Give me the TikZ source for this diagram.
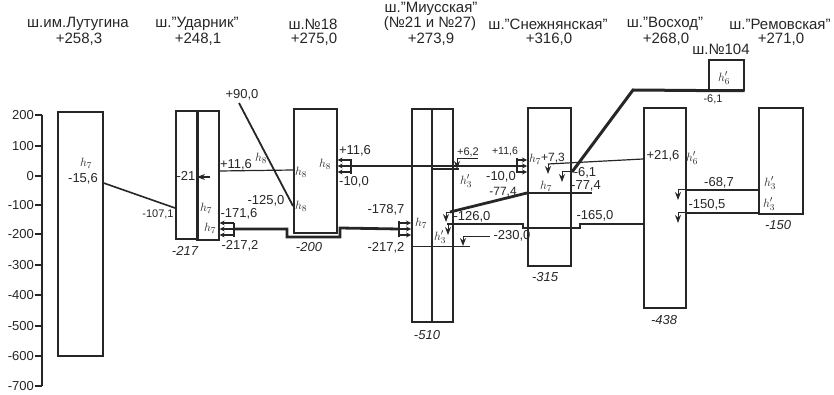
\documentclass[tikz,border=0pt]{standalone}
\usepackage{fontspec}
\setmainfont{Liberation Sans}
\usetikzlibrary{arrows.meta}
\begin{document}
\begin{tikzpicture}[x=1pt, y=-1pt, >={Stealth[length=8pt,width=6pt]},
        every node/.style={text=black!85, inner sep=0pt},
        shaft/.style={draw=black!85, line width=1.6pt, anchor=north west, inner sep=0pt},
        big/.style={font=\fontsize{15}{16}\selectfont},
        mid/.style={font=\fontsize{13}{14}\selectfont},
        depth/.style={font=\fontsize{13}{14}\selectfont\itshape},
        hlab/.style={font=\fontsize{13}{14}\selectfont},
        seam/.style={black!85, line width=2.8pt},
        drift/.style={black!85, line width=1.2pt},
        flow/.style={->, black!85, line width=1pt},
        brack/.style={black!85, line width=1.8pt}]
    \useasboundingbox (0,0) rectangle (834,395);

    % Axis
    \draw[black!85, line width=1.6pt] (42,115) -- (42,386);
    \foreach \val/\y in {200/115, 100/146, 0/176, -100/205, -200/234, -300/265, -400/295, -500/326, -600/356, -700/386} {
            \draw[black!85, line width=1.6pt] (35,\y) -- (42,\y);
            \node[mid, anchor=east] (tick\y) at (34,\y) {\val};
        }

    % Shaft headers
    \foreach \i/\x/\name/\level in {1/78/{ш.им.Лутугина}/{+258,3}, 2/197/{ш."Ударник"}/{+248,1}, 3/313/{ш.№18}/{+275,0}, 4/430/{(№21 и №27)}/{+273,9}, 5/548/{ш."Снежнянская"}/{+316,0}, 6/665/{ш."Восход"}/{+268,0}, 7/780/{ш."Ремовская"}/{+271,0}} {
            \node[big] (name\i) at (\x,24) {\name};
            \node[big] (level\i) at (\x+1,39) {\level};
        }
    \node[big] (nameMius) at (431,9) {ш."Миусская"};
    \node[big] (name8) at (721,49) {ш.№104};

    % Boxes
    \node[shaft, minimum width=45pt, minimum height=244pt] (lut) at (57,111) {};
    \node[shaft, minimum width=22pt, minimum height=128pt] (udA) at (175,110) {};
    \node[shaft, minimum width=21pt, minimum height=129pt] (udB) at (197,110) {};
    \node[shaft, minimum width=43pt, minimum height=124pt] (n18) at (293,108) {};
    \node[shaft, minimum width=20pt, minimum height=213pt] (miA) at (411,108) {};
    \node[shaft, minimum width=21pt, minimum height=213pt] (miB) at (431,108) {};
    \node[shaft, minimum width=43pt, minimum height=158pt] (sne) at (527,107) {};
    \node[shaft, minimum width=42pt, minimum height=200pt] (vos) at (643,107) {};
    \node[shaft, minimum width=44pt, minimum height=106pt] (rem) at (758,107) {};
    \node[shaft, minimum width=35pt, minimum height=30pt] (n104) at (708,59) {};
    \draw[black!85, line width=2.6pt] (udB.north west) -- (udB.south west);

    % Free ends
    \coordinate (topNine) at (239,103);
    \coordinate (brUd) at (234,229);
    \coordinate (brNr) at (351,166);
    \coordinate (brMi) at (399,229);
    \coordinate (brSn) at (517,166);
    \coordinate (dipA) at (287,229);
    \coordinate (dipB) at (340,228);
    \coordinate (bendN) at (633,90);
    \coordinate (bendS) at (572,172);
    \coordinate (endA) at (459,169);
    \coordinate (endB) at (447,224);
    \coordinate (endC) at (450,212);
    \coordinate (endD) at (592,193);
    \coordinate (endE) at (470,246);
    \coordinate (endF) at (548,164);
    \coordinate (stepA) at (523,224);
    \coordinate (stepB) at (580,224);
    \coordinate (capA) at (478,158);
    \coordinate (capB) at (490,236);

    % Workings
    \draw[black!85, line width=1.6pt] (lut.east |- 0,183) -- (udA.west |- 0,208);
    \draw[drift] (udB.east |- 0,171) -- (n18.west |- 0,170);
    \draw[black!85, line width=1.8pt] (topNine) -- (n18.west |- 0,206);
    \draw[seam] (brUd) -- (dipA) -- (dipA |- 0,237) -- (dipB |- 0,237) -- (dipB) -- (brMi);
    \draw[drift] (brNr) -- (brSn);
    \draw[seam] (miB.west |- endA) -- (endA);
    \draw[seam] (endC) -- (sne.west |- 0,193);
    \draw[drift] (sne.west |- 0,193) -- (endD);
    \draw[seam] (endB) -- (stepA) -- (stepA |- 0,228) -- (stepB |- 0,228) -- (stepB) -- (vos.west |- 0,224);
    \draw[drift, line width=0.8pt] (miA.west |- endE) -- (endE);
    \draw[line width=3pt, black!85] (n104.south east) -- (n104.south west) -- (bendN) -- (bendS);
    \draw[drift] (vos.west |- 0,159) -- (endF);
    \draw[seam] (vos.east |- 0,190) -- (rem.west |- 0,190);
    \draw[drift] (vos.east |- 0,213) -- (rem.west |- 0,213);

    % Brackets with three arrows
    \foreach \br/\tgt/\side/\up/\down in {brUd/udB/east/6/8, brNr/n18/east/7/8, brMi/miA/west/8/8, brSn/sne/west/8/7} {
            \draw[brack] ([yshift=\up pt]\br) -- ([yshift=-\down pt]\br);
            \foreach \dy in {-6,0,6} {
                    \draw[flow, line width=1.2pt, >={Stealth[length=5pt,width=5pt]}] ([yshift=\dy pt]\br) -- ([yshift=\dy pt]\br -| \tgt.\side);
                }
        }
    \draw[flow, line width=1.3pt] (210,177) coordinate (arrTail) -- (udB.west |- arrTail);

    % Level arrows
    \foreach \nm/\x/\y/\len in {lvA/457/158/11, lvB/446/212/10, lvC/448/224/11, lvD/463/236/10, lvE/548/164/10, lvF/562/172/10, lvG/678/190/10, lvH/678/213/10} {
            \coordinate (\nm) at (\x,\y);
            \coordinate (\nm tip) at (\x,\y+\len);
            \draw[flow] (\nm) -- (\nm tip);
        }
    \draw[black!85, line width=0.8pt] (lvA) -- (capA);
    \draw[black!85, line width=0.8pt] (lvB) -- (endC);
    \draw[black!85, line width=0.8pt] (lvD) -- (capB);
    \draw[black!85, line width=1pt] (bendS) -- (lvF);
    \draw[black!85, line width=1pt] (vos.east |- lvG) -- (lvG);
    \draw[black!85, line width=1pt] (vos.east |- lvH) -- (lvH);

    % Levels
    \foreach \i/\x/\y/\txt in {1/83/179/{-15,6}, 2/186/176/{-21}, 3/236/165/{+11,6}, 4/239/214/{-171,6}, 5/240/246/{-217,2}, 6/242/95/{+90,0}, 7/266/201/{-125,0}, 8/355/151/{+11,6}, 9/354/182/{-10,0}, 10/386/210/{-178,7}, 11/386/248/{-217,2}, 12/501/177/{-10,0}, 13/472/217/{-126,0}, 14/512/236/{-230,0}, 15/585/173/{-6,1}, 16/586/186/{-77,4}, 17/595/216/{-165,0}, 18/663/156/{+21,6}, 19/719/183/{-68,7}, 20/707/205/{-150,5}} {
            \node[mid] (lev\i) at (\x,\y) {\txt};
        }
    \foreach \i/\x/\y/\size/\txt in {1/158/214/11/{-107,1}, 2/468/152/11/{+6,2}, 3/505/152/10.5/{+11,6}, 4/503/192/12/{-77,4}, 5/553/158/12/{+7,3}, 6/713/99/11/{-6,1}} {
            \node[font=\fontsize{\size}{12}\selectfont] (low\i) at (\x,\y) {\txt};
        }

    % Shaft depths
    \foreach \i/\x/\y/\txt in {1/185/251/{-217}, 2/309/247/{-200}, 3/427/335/{-510}, 4/545/277/{-315}, 5/664/320/{-438}, 6/778/225/{-150}} {
            \node[depth] (dep\i) at (\x,\y) {\txt};
        }

    % Seams
    \foreach \i/\x/\y/\txt in {1/86/163/{h_7}, 2/206/208/{h_7}, 3/210/228/{h_7}, 4/261/158/{h_8}, 5/301/172/{h_8}, 6/301/206/{h_8}, 7/325/164/{h_8}, 8/421/223/{h_7}, 9/466/181/{h'_3}, 10/440/237/{h'_3}, 11/535/159/{h_7}, 12/546/186/{h_7}, 13/692/158/{h'_6}, 14/770/183/{h'_3}, 15/769/204/{h'_3}, 16/724/78/{h'_6}} {
            \node[hlab] (seam\i) at (\x,\y) {$\txt$};
        }
\end{tikzpicture}
\end{document}
